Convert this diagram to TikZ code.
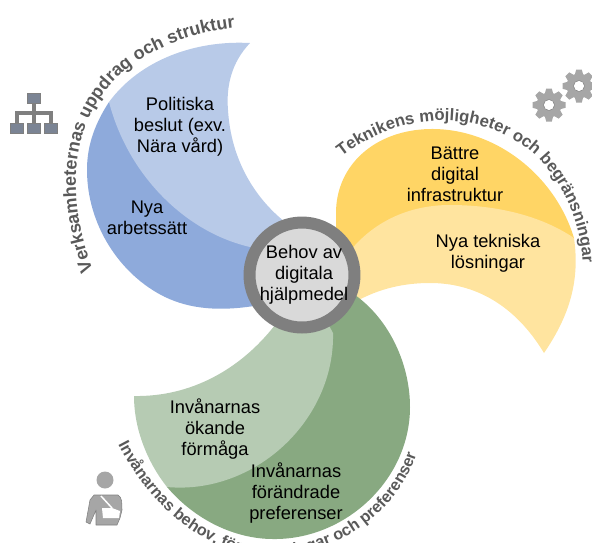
\documentclass[tikz,border=0pt]{standalone}
\usepackage{fontspec}
\setmainfont{Liberation Sans}
\usetikzlibrary{decorations.text}

\definecolor{blueDark}{HTML}{8EAADB}
\definecolor{blueLight}{HTML}{B8CAE8}
\definecolor{yellowDark}{HTML}{FFD565}
\definecolor{yellowLight}{HTML}{FFE49F}
\definecolor{greenDark}{HTML}{88A981}
\definecolor{greenLight}{HTML}{B6CBB3}
\definecolor{ringGrey}{HTML}{7F7F7F}
\definecolor{hubGrey}{HTML}{D9D9D9}
\definecolor{titleGrey}{HTML}{595959}
\definecolor{iconGrey}{HTML}{A6A6A6}
\definecolor{boxGrey}{HTML}{7B8494}

\tikzset{
  petalText/.style={align=center, font=\fontsize{10.4}{11.9}\selectfont, text=black, inner sep=0pt},
  arcText/.style 2 args={decorate, decoration={text along path, text align=center, text={|\fontsize{#1}{12}\selectfont\bfseries\color{titleGrey}|#2}}},
  orgBox/.style={draw=ringGrey, fill=boxGrey, line width=0.5pt}
}

\newcommand{\gearIcon}[2]{
  \foreach \a in {0,45,...,315} {
    \fill[iconGrey, shift={(#1,#2)}, rotate=\a] (-4.5,-10) -- (-2.8,-16.5) -- (2.8,-16.5) -- (4.5,-10) -- cycle;
  }
  \fill[iconGrey] (#1,#2) circle (12.5);
  \draw[ringGrey, fill=white, line width=0.3pt] (#1,#2) circle (5.5);
}

\begin{document}
\begin{tikzpicture}[x=0.02cm, y=-0.02cm]
  \useasboundingbox (0,0) rectangle (592,542);
  \clip (0,0) rectangle (592,542);

  % blue
  \fill[blueDark] (109,102) .. controls (92,128) and (87,150) .. (87,170) .. controls (87,225) and (120,275) .. (165,297) .. controls (190,309) and (220,312) .. (260,305) -- (302,275) -- cycle;
  \fill[blueLight] (109,102) .. controls (140,60) and (195,40) .. (250,43) .. controls (232,62) and (226,85) .. (228,110) .. controls (231,160) and (255,198) .. (285,222) -- (302,275) -- (250,247) .. controls (185,232) and (128,175) .. (109,102) -- cycle;

  % yellow
  \fill[yellowDark] (336,235) -- (336,213) .. controls (336,165) and (375,130) .. (430,129) .. controls (495,128) and (555,175) .. (574,238) -- (450,240) -- (302,275) -- cycle;
  \fill[yellowLight] (340,265) .. controls (365,225) and (405,205) .. (450,205) .. controls (495,205) and (540,215) .. (574,238) .. controls (580,280) and (570,315) .. (544,353) .. controls (515,305) and (475,283) .. (430,283) .. controls (405,283) and (380,288) .. (355,302) -- (302,275) -- cycle;

  % green
  \fill[greenDark] (355,295) .. controls (390,320) and (410,365) .. (410,407) .. controls (410,480) and (345,540) .. (273,539) .. controls (235,539) and (195,520) .. (167,487) -- (290,400) -- (302,275) -- cycle;
  \fill[greenLight] (134,396) .. controls (134,430) and (148,463) .. (167,487) .. controls (255,495) and (335,420) .. (333,333) -- (302,275) -- (275,325) .. controls (240,370) and (190,397) .. (134,396) -- cycle;

  % hub
  \node[circle, draw=ringGrey, fill=hubGrey, line width=0.24cm, minimum size=2.1cm, inner sep=0pt] (hub) at (302,275) {};
  \node[petalText] (hubText) at (304,275) {Behov av\\digitala\\hjälpmedel};

  \node[petalText] (politiska) at (180,127) {Politiska\\beslut (exv.\\Nära vård)};
  \node[petalText] (arbetssatt) at (147,218) {Nya\\arbetssätt};
  \node[petalText] (battre) at (455,174) {Bättre\\digital\\infrastruktur};
  \node[petalText] (tekniska) at (488,253) {Nya tekniska\\lösningar};
  \node[petalText] (formaga) at (215,429) {Invånarnas\\ökande\\förmåga};
  \node[petalText] (preferenser) at (296,493) {Invånarnas\\förändrade\\preferenser};

  % titles along the arcs
  \path[arcText={10.2}{Verksamheternas uppdrag och struktur}] (93,270) .. controls (68,205) and (65,125) .. (120,75) .. controls (150,48) and (195,32) .. (235,28);
  \path[arcText={9.5}{Teknikens möjligheter och begränsningar}] (338,160) .. controls (405,105) and (490,110) .. (540,160) .. controls (565,187) and (582,225) .. (583,268);
  \path[arcText={9.2}{Invånarnas behov, förutsättningar och preferenser}] (119,446) .. controls (150,505) and (205,556) .. (270,556) .. controls (335,556) and (395,515) .. (416,456);

  % org chart
  \draw[ringGrey, line width=0.08cm] (34,103) -- (34,123) (17,123) -- (17,113) -- (51,113) -- (51,123);
  \foreach \x in {17,34,51} {
    \draw[orgBox] (\x-6.5,123) rectangle (\x+6.5,133);
  }
  \draw[orgBox] (27.5,93) rectangle (40.5,103);

  % gears
  \gearIcon{549}{105}
  \gearIcon{579}{86}

  % person with sling
  \fill[iconGrey] (105,480) circle (8.5);
  \fill[iconGrey, draw=ringGrey, line width=0.3pt, line join=round] (94,495) -- (118,495) .. controls (122,497) and (122,503) .. (122,510) -- (120,518) -- (117,525) -- (96,525) -- (96,510) -- (90,524) -- (86,522) -- (90,500) -- cycle;
  \fill[white] (102,508) -- (112,508) -- (120,511) -- (119,518) -- (103,518) -- cycle;
  \draw[white, line width=0.03cm] (101,496) -- (112,508);
\end{tikzpicture}
\end{document}
